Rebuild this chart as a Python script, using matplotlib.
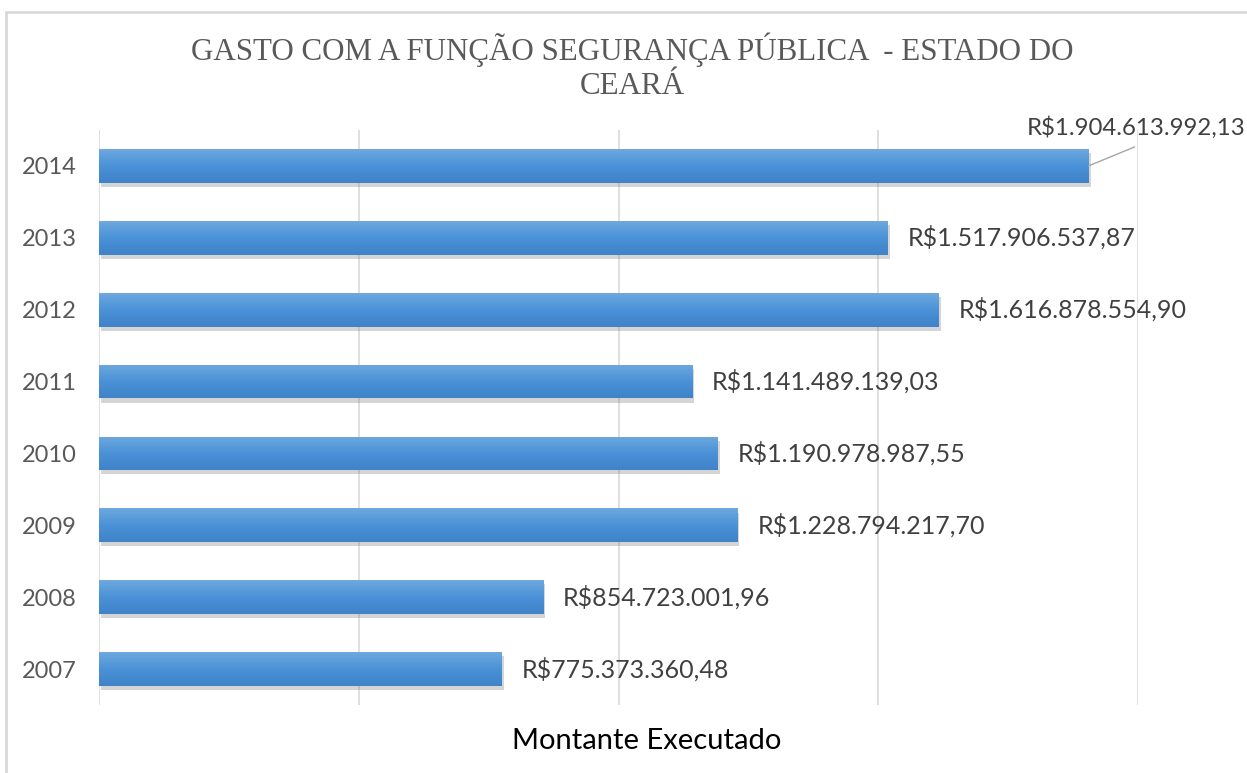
import matplotlib
matplotlib.use("Agg")
import matplotlib.pyplot as plt
import numpy as np
from matplotlib import patheffects as pe
from matplotlib.patches import Rectangle
from matplotlib.colors import LinearSegmentedColormap

years = ["2007", "2008", "2009", "2010", "2011", "2012", "2013", "2014"]
values = [775373360.48, 854723001.96, 1228794217.70, 1190978987.55,
          1141489139.03, 1616878554.90, 1517906537.87, 1904613992.13]
title = "GASTO COM A FUNÇÃO SEGURANÇA PÚBLICA  - ESTADO DO\nCEARÁ"
xlabel = "Montante Executado"


def brl(v):
    s = f"{v:,.2f}"
    s = s.replace(",", "X").replace(".", ",").replace("X", ".")
    return "R$" + s


W, H = 1247, 773
fig = plt.figure(figsize=(W / 100, H / 100), dpi=100)
fig.patch.set_facecolor("white")

# chart frame
fig.patches.append(Rectangle((6 / W, -0.05), 1.2, 0.05 + (H - 12) / H,
                             transform=fig.transFigure, fill=False,
                             edgecolor="#d9d9d9", linewidth=2, zorder=0))

ax = fig.add_axes([99 / W, 68 / H, (1138 - 99) / W, (705 - 130) / H])
ax.set_facecolor("none")
ypos = np.arange(len(years))
bh = 0.47
bars = ax.barh(ypos, values, height=bh, color="#4a90d6", zorder=3,
               path_effects=[pe.SimplePatchShadow(offset=(1.5, -3), shadow_rgbFace="#777777", alpha=0.3),
                             pe.Normal()])
grad = np.linspace(0, 1, 100).reshape(-1, 1)
cmap = LinearSegmentedColormap.from_list("g", ["#6ea8de", "#4a92d8", "#3f82c8"])
for b, v, y in zip(bars, values, ypos):
    im = ax.imshow(grad, cmap=cmap, aspect="auto", origin="upper",
                   extent=[0, v, y - bh / 2, y + bh / 2], zorder=4)
    im.set_clip_path(b)

ax.set_xlim(0, 2.0e9)
ax.set_ylim(-0.5, len(years) - 0.5)
ax.set_xticks(np.arange(0, 2.0e9 + 1, 0.5e9))
ax.set_xticklabels([])
ax.tick_params(axis="x", length=0)
ax.grid(axis="x", color="#d9d9d9", linewidth=1.2, zorder=0)
ax.set_yticks(ypos)
ax.set_yticklabels(years, fontsize=17, color="#595959", family="Lato")
ax.tick_params(axis="y", length=0, pad=16)
for s in ax.spines.values():
    s.set_visible(False)

for i, (v, y) in enumerate(zip(values, ypos)):
    if i == len(values) - 1:
        ax.text(2.0e9 + 108 / 519.8 * 1e9, y + 0.54, brl(v), ha="right", va="center", fontsize=17.3,
                color="#404040", family="Lato", zorder=6, clip_on=False)
        ax.annotate("", xy=(v, y), xytext=(v + 0.089e9, y + 0.265),
                    arrowprops=dict(arrowstyle="-", color="#a6a6a6", lw=1,
                                    shrinkA=0, shrinkB=0), zorder=6, annotation_clip=False)
    else:
        ax.annotate(brl(v), xy=(v, y), xytext=(20, 0), textcoords="offset pixels",
                    ha="left", va="center", fontsize=18, color="#404040", family="Lato", zorder=6)

ax.set_xlabel(xlabel, fontsize=21, color="black", family="Lato", labelpad=14)
ax.xaxis.set_label_coords((647 - 99) / (1138 - 99), -0.062)
ax.xaxis.label.set_va("center")
fig.text(632 / W, 1 - 67 / H, title, ha="center", va="center", fontsize=22.3,
         family="Liberation Serif", color="#595959", linespacing=1.25)

fig.savefig("out.png", dpi=100, facecolor="white")
